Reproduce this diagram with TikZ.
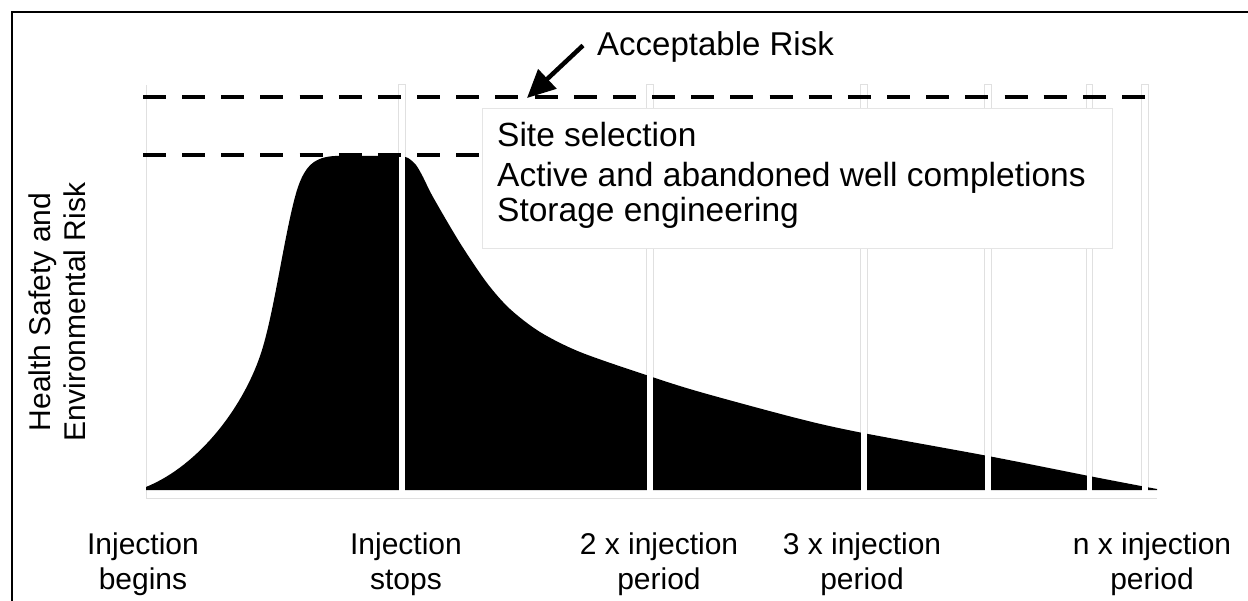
\documentclass[tikz,border=0pt]{standalone}
\usepackage{fontspec}
\setmainfont{Liberation Sans}
\usetikzlibrary{arrows.meta}

\begin{document}
\begin{tikzpicture}[x=1pt,y=-1pt,
  faint/.style={draw=black!12, line width=1pt},
  riskline/.style={line width=4.5pt, dash pattern=on 23pt off 16.16pt},
  lbl/.style={font=\fontsize{30}{35}\selectfont, align=center, inner sep=0pt},
  boxtext/.style={font=\fontsize{33.5}{40}\selectfont, anchor=base west, inner sep=0pt},
  pointer/.style={line width=4.5pt, -{Triangle[length=28pt,width=26pt]}}]
\useasboundingbox (0,0) rectangle (1248,601);

% outer frame, running off the page at right and bottom
\draw[line width=2.5pt] (12,620) -- (12,12) -- (1260,12);

% faint chart axes
\draw[faint] (146,85) -- (146,498) -- (1157,498);

% faint edges of the column gaps
\foreach \a/\b in {398/405, 646/653, 860/867, 984/991, 1086/1092, 1141/1148}
  \draw[faint] (\a,490) -- (\a,85) -- (\b,85) -- (\b,490);

% risk profile: steep rise, plateau, long decay
\fill (146,490) -- (146,487)
  .. controls (200,465) and (245,405) .. (262,350)
  .. controls (275,308) and (285,230) .. (297,190)
  .. controls (305,165) and (315,157) .. (335,156)
  -- (400,156)
  -- plot[smooth, tension=0.5] coordinates {
  (400,156) (408,158) (416,165) (423,177) (433,197) (460,243) (487,283)
  (510,309) (540,332) (580,352) (646,375) (700,392) (800,419)
  (863,433) (988,456) (1089,476) (1141,486) (1157,489)}
  -- (1157,490) -- cycle;

% white column gaps cutting the profile
\foreach \a/\b in {398/405, 646/653, 860/867, 984/991, 1086/1092, 1141/1148}
  \fill[white] (\a+0.5,86) rectangle (\b-0.5,491);

% box of risk controls
\node[draw=black!10, fill=white, line width=1pt, minimum width=630pt, minimum height=140pt,
      inner sep=0pt, anchor=north west] (controls) at (482,108) {};
\node[boxtext] (site) at (497,147) {Site selection};
\node[boxtext] (wells) at (497,187) {Active and abandoned well completions};
\node[boxtext] (eng) at (497,222) {Storage engineering};

% acceptable risk levels
\draw[riskline] (143,97) -- (1145,97);
\draw[riskline] (143,155) -- (480,155);

% acceptable risk label and pointer
\node[font=\fontsize{33}{40}\selectfont, anchor=base west, inner sep=0pt] (risk) at (597,56) {Acceptable Risk};
\coordinate (risktip) at (527,98);
\draw[pointer] ([xshift=-14pt,yshift=2pt]risk.west) -- (risktip);

% vertical axis label
\node[lbl, rotate=90] (ylabel) at (57,312) {Health Safety and\\Environmental Risk};

% time axis labels
\node[lbl, anchor=north] (t0) at (143,533) {Injection\\begins};
\node[lbl, anchor=north] (t1) at (406,533) {Injection\\stops};
\node[lbl, anchor=north] (t2) at (659,533) {2 x injection\\period};
\node[lbl, anchor=north] (t3) at (862,533) {3 x injection\\period};
\node[lbl, anchor=north] (tn) at (1152,533) {n x injection\\period};
\end{tikzpicture}
\end{document}
